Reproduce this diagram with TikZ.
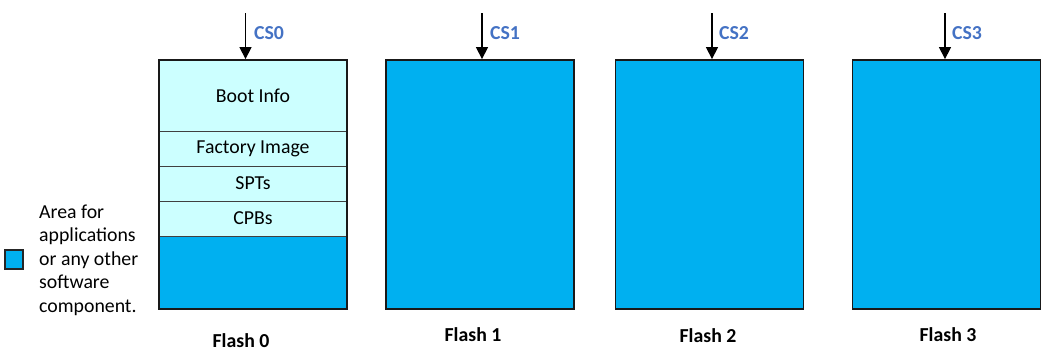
\documentclass[tikz,border=0pt]{standalone}
\usepackage{fontspec}
\setmainfont{Carlito}
\usetikzlibrary{arrows.meta}
\definecolor{appblue}{HTML}{00B0F0}
\definecolor{lightcyan}{HTML}{CCFFFF}
\definecolor{cslabel}{HTML}{4472C4}
\tikzset{
  flashbox/.style={draw=black!90, line width=1.8pt, fill=appblue, minimum width=188pt, minimum height=249pt, inner sep=0pt},
  section/.style={draw=black!75, line width=0.9pt, fill=lightcyan, minimum width=188pt, inner sep=0pt, font=\fontsize{19.8}{22}\selectfont},
  appsection/.style={draw=none, fill=appblue, minimum width=188pt, inner sep=0pt},
  csarrow/.style={-{Triangle[length=12pt,width=12pt]}, line width=1.3pt},
  cstext/.style={text=cslabel, font=\bfseries\fontsize{19.8}{22}\selectfont},
  flashlabel/.style={font=\bfseries\fontsize{19.8}{22}\selectfont},
  legendbox/.style={draw=black!85, line width=1.2pt, fill=appblue, minimum width=18pt, minimum height=19pt, inner sep=0pt},
  legendtext/.style={align=left, font=\fontsize{19.8}{23.5}\selectfont, inner sep=0pt}
}
\begin{document}
\begin{tikzpicture}[x=1pt,y=-1pt]
\useasboundingbox (0,0) rectangle (1058,364);
% Flash 0 sections
\node[appsection, minimum height=73pt] (app0) at (253,272.5) {};
\node[section, minimum height=71pt] (boot) at (253,95.5) {Boot Info};
\node[section, minimum height=35pt] (factory) at (253,148.5) {Factory Image};
\node[section, minimum height=35pt] (spt) at (253,183.5) {SPTs};
\node[section, minimum height=35pt] (cpb) at (253,218.5) {CPBs};
\node[flashbox, fill=none] (f0) at (253,184.5) {};
% Flash 1-3
\node[flashbox] (f1) at (480,184.5) {};
\node[flashbox] (f2) at (709.5,184.5) {};
\node[flashbox] (f3) at (946.5,184.5) {};
% arrows
\coordinate (s0) at (245.5,13);
\coordinate (s1) at (482,13);
\coordinate (s2) at (712,13);
\coordinate (s3) at (945,13);
\draw[csarrow] (s0) -- (s0 |- f0.north);
\draw[csarrow] (s1) -- (s1 |- f1.north);
\draw[csarrow] (s2) -- (s2 |- f2.north);
\draw[csarrow] (s3) -- (s3 |- f3.north);
\node[cstext] (cs0) at (269,33) {CS0};
\node[cstext] (cs1) at (505,33) {CS1};
\node[cstext] (cs2) at (734,33) {CS2};
\node[cstext] (cs3) at (967,33) {CS3};
% flash labels
\node[flashlabel] (l0) at (241,341) {Flash 0};
\node[flashlabel] (l1) at (473,335) {Flash 1};
\node[flashlabel] (l2) at (708,336) {Flash 2};
\node[flashlabel] (l3) at (948,335) {Flash 3};
% legend
\node[legendbox] (leg) at (14,259.5) {};
\node[legendtext, anchor=west] (legt) at (39,260) {Area for\\applications\\or any other\\software\\component.};
\end{tikzpicture}
\end{document}
